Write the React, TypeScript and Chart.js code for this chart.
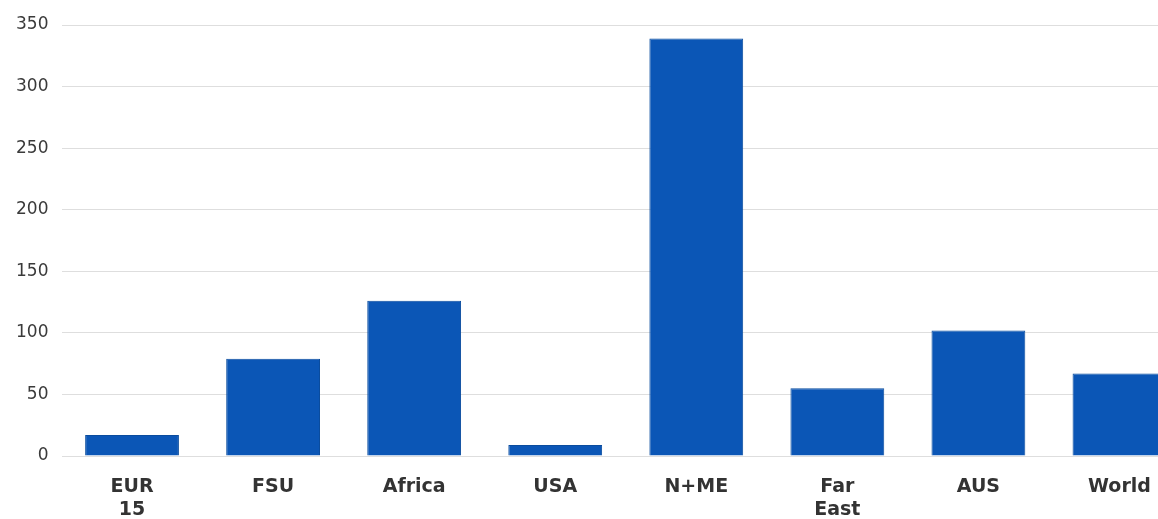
import React, { useEffect, useRef } from "react";
import { Chart, registerables } from "chart.js";

Chart.register(...registerables);

const categories: (string | string[])[] = [["EUR", "15"], "FSU", "Africa", "USA", "N+ME", ["Far", "East"], "AUS", "World"];
const values: number[] = [17, 79, 126, 9, 339, 55, 102, 67];
const yTicks: number[] = [0, 50, 100, 150, 200, 250, 300, 350];

export default function App() {
  const ref = useRef<HTMLCanvasElement | null>(null);
  useEffect(() => {
    if (!ref.current) return;
    const chart = new Chart(ref.current, {
      type: "bar",
      data: {
        labels: categories,
        datasets: [
          {
            data: values,
            backgroundColor: "#0b56b6",
            borderColor: "#0a4c9e",
            borderWidth: 1,
            categoryPercentage: 1,
            barPercentage: 0.665,
          },
        ],
      },
      options: {
        animation: false,
        responsive: true,
        maintainAspectRatio: false,
        layout: { padding: { top: 25, left: 0, right: 0, bottom: 0 } },
        plugins: { legend: { display: false }, tooltip: { enabled: false } },
        scales: {
          x: {
            grid: { display: false, drawTicks: false },
            border: { display: false },
            ticks: {
              color: "#333333",
              font: { family: "DejaVu Sans", size: 19, weight: "bold", lineHeight: 1.2 },
              padding: 20,
              maxRotation: 0,
              autoSkip: false,
            },
            afterFit: (s: any) => {
              s.height = 63;
            },
          },
          y: {
            min: 0,
            max: 350,
            afterBuildTicks: (s: any) => {
              s.ticks = yTicks.map((v) => ({ value: v }));
            },
            grid: { color: "#dedede", lineWidth: 1, drawTicks: false },
            border: { display: false },
            ticks: {
              color: "#3a3a3a",
              font: { family: "DejaVu Sans", size: 17 },
              padding: 13,
            },
            afterFit: (s: any) => {
              s.width = 61.5;
            },
          },
        },
      },
    });
    return () => chart.destroy();
  }, []);
  return (
    <div style={{ position: "absolute", left: 0, top: 0, width: 1158, height: 519, overflow: "hidden", background: "#fff" }}>
      <div style={{ position: "relative", width: 1190, height: 519 }}>
        <canvas ref={ref} />
      </div>
    </div>
  );
}
